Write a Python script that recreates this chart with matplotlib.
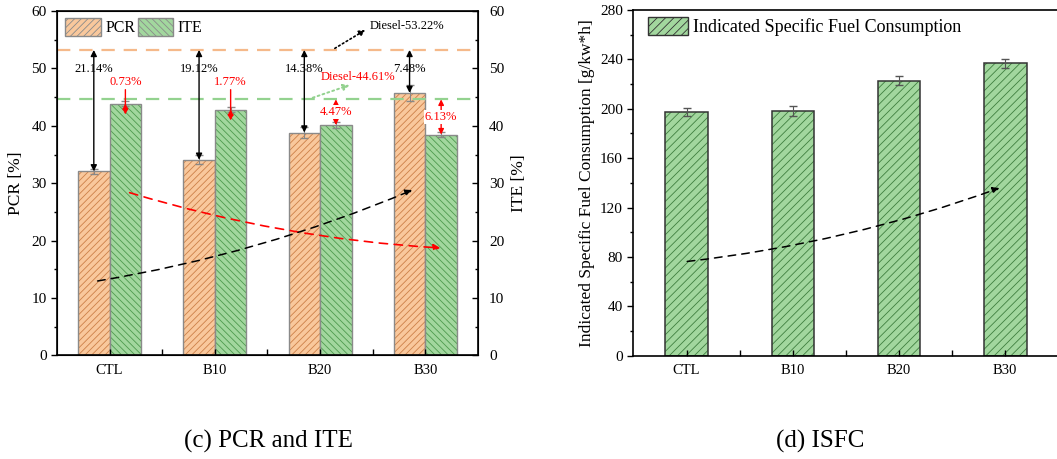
import numpy as np
import matplotlib
matplotlib.use("Agg")
import matplotlib.pyplot as plt
from matplotlib.patches import Patch

plt.rcParams['font.family'] = ['Liberation Serif', 'DejaVu Serif']
plt.rcParams['hatch.linewidth'] = 0.6

# data
cats = ["CTL", "B10", "B20", "B30"]
pcr = [32.08, 34.10, 38.84, 45.74]
pcr_err = [0.4, 0.8, 1.0, 1.4]
ite = [43.88, 42.84, 40.14, 38.48]
ite_err = [0.4, 0.5, 0.6, 0.5]
pcr_diesel = 53.22
ite_diesel = 44.61
pcr_gap = ["21.14%", "19.12%", "14.38%", "7.48%"]
ite_gap = ["0.73%", "1.77%", "4.47%", "6.13%"]
isfc = [197.5, 198.3, 222.8, 236.8]
isfc_err = [3.0, 4.0, 3.5, 3.5]

orange = "#F9C89C"
orange_h = "#CC8048"
green = "#A2D79E"
green_h = "#4E9A4E"

fig = plt.figure(figsize=(10.57, 4.59), dpi=100)

#%% (c) PCR and ITE
ax = fig.add_axes([0.0539, 0.2255, 0.3983, 0.7505])
x = np.arange(1, len(cats) + 1)
w = 0.3
# fill + hatch, then grey outline on top
ax.bar(x - w/2, pcr, w, color=orange, edgecolor=orange_h, hatch="/////", linewidth=0)
ax.bar(x - w/2, pcr, w, color="none", edgecolor="#8a8a8a", linewidth=1.0)
ax.errorbar(x - w/2, pcr, yerr=pcr_err, fmt="none", ecolor="#888888", elinewidth=0.8, capsize=3)
ax.bar(x + w/2, ite, w, color=green, edgecolor=green_h, hatch="\\\\\\\\\\", linewidth=0)
ax.bar(x + w/2, ite, w, color="none", edgecolor="#8a8a8a", linewidth=1.0)
ax.errorbar(x + w/2, ite, yerr=ite_err, fmt="none", ecolor="#888888", elinewidth=0.8, capsize=3)

ax.axhline(pcr_diesel, color="#F5B98A", ls=(0, (6, 4)), lw=1.6)
ax.axhline(ite_diesel, color="#93D28F", ls=(0, (6, 4)), lw=1.6)

for i in range(len(cats)):
    xp = x[i] - w/2
    ax.annotate("", xy=(xp, pcr[i]), xytext=(xp, pcr_diesel),
                arrowprops=dict(arrowstyle="<|-|>", color="black", lw=1.0,
                                mutation_scale=9, shrinkA=0, shrinkB=0))
    ax.text(xp, 49.9, pcr_gap[i], ha="center", va="center", fontsize=9)
    xi = x[i] + w/2
    if ite[i] > 42.5:
        ax.annotate("", xy=(xi, ite[i] - 1.9), xytext=(xi, 46.3),
                    arrowprops=dict(arrowstyle="-|>", color="red", lw=1.0,
                                    mutation_scale=8, shrinkA=0, shrinkB=0))
        ax.annotate("", xy=(xi, ite[i]), xytext=(xi, ite[i] - 1.0),
                    arrowprops=dict(arrowstyle="-|>", color="red", lw=1.0,
                                    mutation_scale=8, shrinkA=0, shrinkB=0))
        ax.text(xi, 47.6, ite_gap[i], ha="center", va="center", fontsize=9, color="red")
    else:
        ax.annotate("", xy=(xi, ite[i]), xytext=(xi, ite_diesel),
                    arrowprops=dict(arrowstyle="<|-|>", color="red", lw=1.0,
                                    mutation_scale=8, shrinkA=0, shrinkB=0))
        ym = (ite[i] + ite_diesel) / 2
        ax.text(xi, ym, ite_gap[i], ha="center", va="center", fontsize=9, color="red",
                bbox=dict(fc="white", ec="none", pad=0.5))

ax.annotate("", xy=(3.43, 56.7), xytext=(3.14, 53.5),
            arrowprops=dict(arrowstyle="-|>", color="black", ls=":", lw=1.2,
                            mutation_scale=9, shrinkA=0, shrinkB=0))
ax.text(3.47, 57.4, "Diesel-53.22%", ha="left", va="center", fontsize=9)
ax.annotate("", xy=(3.28, 47.1), xytext=(2.93, 44.9),
            arrowprops=dict(arrowstyle="-|>", color="#93D28F", ls=":", lw=1.4,
                            mutation_scale=9, shrinkA=0, shrinkB=0))
ax.text(3.01, 48.5, "Diesel-44.61%", ha="left", va="center", fontsize=9, color="red")

# trend arrows
ax.annotate("", xy=(4.17, 18.7), xytext=(1.165, 28.5),
            arrowprops=dict(arrowstyle="-|>", color="red", ls=(0, (5, 4)), lw=1.2,
                            mutation_scale=10, connectionstyle="arc3,rad=0.06"))
ax.annotate("", xy=(3.90, 29.0), xytext=(0.86, 12.9),
            arrowprops=dict(arrowstyle="-|>", color="black", ls=(0, (5, 4)), lw=1.1,
                            mutation_scale=10, connectionstyle="arc3,rad=0.06"))

ax.set_xlim(0.5, 4.5)
ax.set_ylim(0, 60)
ax.set_xticks(x)
ax.set_xticklabels(cats)
ax.set_xticks([1.5, 2.5, 3.5], minor=True)
ax.set_yticks(np.arange(0, 61, 10))
ax.set_yticks(np.arange(5, 60, 10), minor=True)
ax.tick_params(axis="y", direction="out", labelsize=11, length=4, width=1)
ax.tick_params(axis="y", which="minor", direction="out", length=2.5, width=1)
ax.tick_params(axis="x", which="both", direction="in", labelsize=10.5, length=4, width=1, pad=6)
ax.set_ylabel("PCR [%]", fontsize=12.5, labelpad=5)
for s in ax.spines.values():
    s.set_linewidth(1.2)

ax2 = ax.twinx()
ax2.set_ylim(0, 60)
ax2.set_yticks(np.arange(0, 61, 10))
ax2.set_yticks(np.arange(5, 60, 10), minor=True)
ax2.tick_params(axis="y", direction="in", labelsize=11, length=4, width=1, pad=8)
ax2.tick_params(axis="y", which="minor", direction="in", length=2.5, width=1)
ax2.set_ylabel("ITE [%]", fontsize=12.5, labelpad=5)

hs = [Patch(facecolor=orange, edgecolor="#8a8a8a", hatch="/////"),
      Patch(facecolor=green, edgecolor="#8a8a8a", hatch="\\\\\\\\\\")]
ax.legend(hs, ["PCR", "ITE"], loc="upper left", ncol=2, frameon=False, fontsize=11.5,
          handlelength=2.2, handleheight=1.4, columnspacing=0.15, handletextpad=0.3,
          bbox_to_anchor=(-0.014, 1.022))

#%% (d) ISFC
bx = fig.add_axes([0.5993, 0.2250, 0.4020, 0.7532])
bx.bar(x, isfc, 0.4, color=green, edgecolor="#3f7f3f", hatch="////", linewidth=0)
bx.bar(x, isfc, 0.4, color="none", edgecolor="#333333", linewidth=1.1)
bx.errorbar(x, isfc, yerr=isfc_err, fmt="none", ecolor="#555555", elinewidth=0.8, capsize=3)
bx.annotate("", xy=(3.97, 136.6), xytext=(0.98, 76.1),
            arrowprops=dict(arrowstyle="-|>", color="black", ls=(0, (5, 4)), lw=1.1,
                            mutation_scale=10, connectionstyle="arc3,rad=0.06"))
bx.set_xlim(0.5, 4.5)
bx.set_ylim(0, 280)
bx.set_xticks(x)
bx.set_xticklabels(cats)
bx.set_xticks([1.5, 2.5, 3.5], minor=True)
bx.set_yticks(np.arange(0, 281, 40))
bx.set_yticks(np.arange(20, 280, 40), minor=True)
bx.tick_params(axis="y", direction="out", labelsize=11, length=4, width=1)
bx.tick_params(axis="y", which="minor", direction="out", length=2.5, width=1)
bx.tick_params(axis="x", which="both", direction="in", labelsize=10.5, length=4, width=1, pad=6)
bx.set_ylabel("Indicated Specific Fuel Consumption [g/kw*h]", fontsize=12.5, labelpad=4)
for s in bx.spines.values():
    s.set_linewidth(1.2)
bx.legend([Patch(facecolor=green, edgecolor="#333333", hatch="////")],
          ["Indicated Specific Fuel Consumption"], loc="upper left", frameon=False,
          fontsize=13, handlelength=2.2, handleheight=1.2, handletextpad=0.3,
          bbox_to_anchor=(-0.004, 1.028))

fig.text(268/1057, 1 - 441/459, "(c) PCR and ITE", ha="center", va="center", fontsize=18)
fig.text(820/1057, 1 - 441/459, "(d) ISFC", ha="center", va="center", fontsize=18)

fig.savefig("out.png", dpi=100)
